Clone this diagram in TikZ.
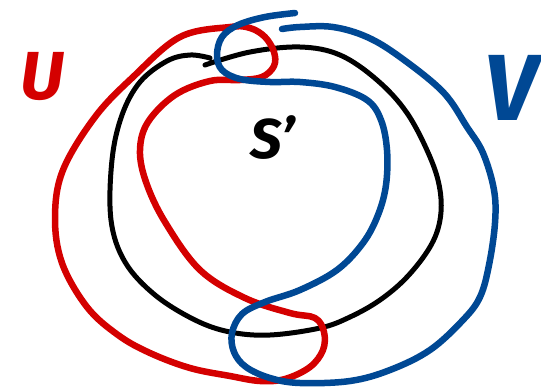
\documentclass[tikz,border=0pt]{standalone}
\usepackage{fontspec}
\setsansfont{Fira Sans}
\usetikzlibrary{positioning}

\definecolor{redU}{RGB}{212,0,0}
\definecolor{blueV}{RGB}{0,72,148}

\begin{document}
\begin{tikzpicture}[x=1pt, y=-1pt, line cap=round, line join=round,
  circ/.style={draw=black, line width=5pt},
  setU/.style={draw=redU, line width=6.5pt},
  setV/.style={draw=blueV, line width=6.5pt},
  lbl/.style={inner sep=0pt, font=\sffamily\bfseries\itshape},
]
  \useasboundingbox (0,0) rectangle (541,389);

  % the circle S'
  \draw[circ] plot[smooth, tension=0.6] coordinates {
    (205,65) (250,52) (300,47) (340,55) (377,80) (407,113) (430,157)
    (440,190) (440,220) (430,247) (407,277) (380,300) (350,317) (320,328)
    (270,335) (230,332) (195,320) (155,295) (125,262) (111,220)
    (112,160) (122,115) (140,82) (167,61) (190,55) (210,58)};

  % open set U
  \draw[setU] plot[smooth cycle, tension=0.6] coordinates {
    (230,27) (250,28) (265,37) (274,52) (274,66) (262,77) (240,80) (210,81)
    (175,95) (148,122) (140,150) (146,182) (165,222) (200,270) (245,298)
    (290,313) (315,318) (324,332) (323,350) (310,367) (285,379) (260,381)
    (230,376) (190,368) (150,353) (118,335) (87,307) (62,263) (55,217)
    (63,170) (95,117) (133,77) (180,37)};

  % open set V
  \draw[setV] plot[smooth, tension=0.6] coordinates {
    (295,13) (265,17) (238,25) (222,37) (217,55) (222,70) (240,79) (270,82)
    (300,82) (335,87) (367,100) (381,120) (387,150) (386,185) (378,215)
    (363,243) (337,270) (300,290) (265,302) (242,314) (232,333) (234,352)
    (246,367) (270,378) (300,383) (350,381) (390,370) (430,350) (463,320)
    (480,297) (489,265) (495,223) (494,190) (483,153) (467,127) (443,92)
    (400,57) (367,37) (333,27) (300,27) (282,29)};

  \node[lbl, text=redU, font=\sffamily\bfseries\itshape\fontsize{68}{68}\selectfont] (labU) at (42,77) {U};
  \node[lbl, text=blueV, font=\sffamily\bfseries\itshape\fontsize{94}{94}\selectfont] (labV) at (511,88) {V};
  \node[lbl, font=\sffamily\bfseries\itshape\fontsize{56}{56}\selectfont] (labS) at (273,138) {S'};
\end{tikzpicture}
\end{document}
